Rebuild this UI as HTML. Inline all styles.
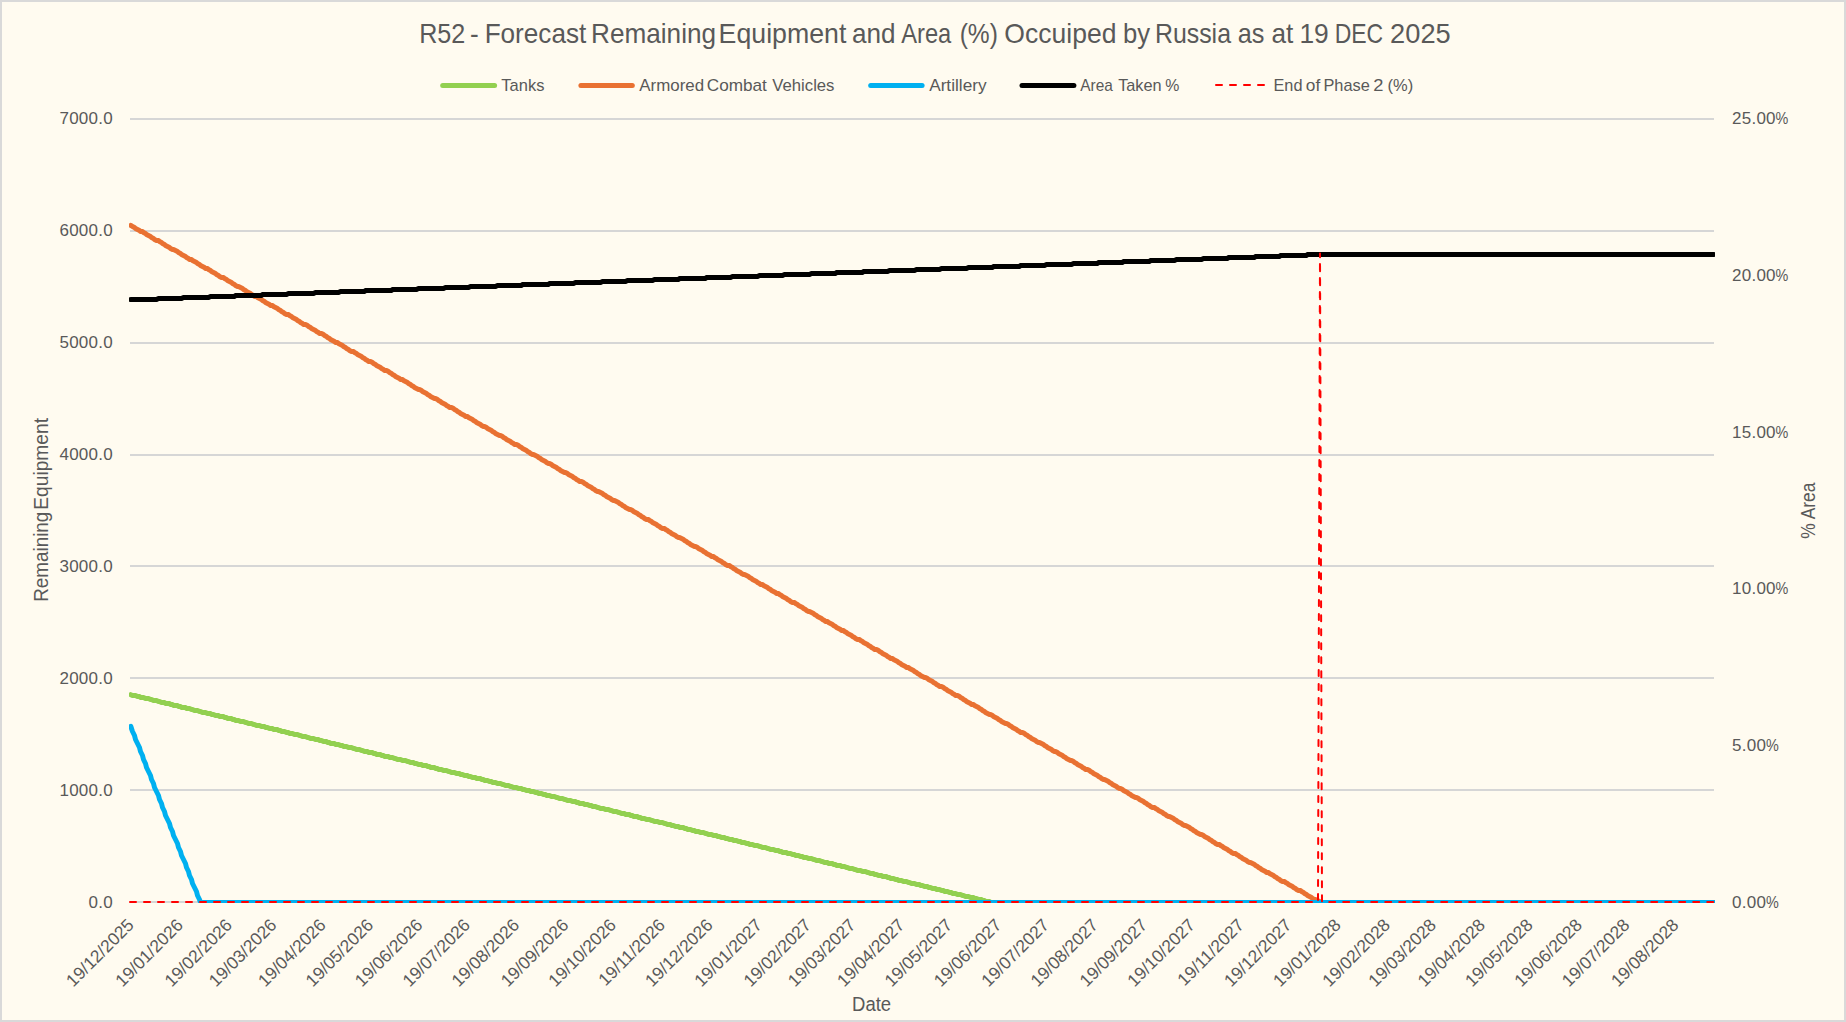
<!DOCTYPE html>
<html lang="en"><head><meta charset="utf-8"><title>R52 - Forecast Remaining Equipment and Area (%) Occuiped by Russia</title>
<style>html,body{margin:0;padding:0;background:#fffbf0;overflow:hidden}svg{display:block}</style></head>
<body>
<svg width="1846" height="1022" viewBox="0 0 1846 1022">
<rect x="0" y="0" width="1846" height="1022" fill="#d9d9d9"/>
<rect x="2" y="2" width="1842" height="1018" fill="#fffbf0"/>
<text y="42.9" font-family="'Liberation Sans', sans-serif" font-size="27.2" fill="#595959" ><tspan x="419.13" textLength="46.12" lengthAdjust="spacingAndGlyphs">R52</tspan> <tspan x="470.12" textLength="8.70" lengthAdjust="spacingAndGlyphs">-</tspan> <tspan x="484.64" textLength="101.66" lengthAdjust="spacingAndGlyphs">Forecast</tspan> <tspan x="591.04" textLength="125.00" lengthAdjust="spacingAndGlyphs">Remaining</tspan> <tspan x="718.60" textLength="127.73" lengthAdjust="spacingAndGlyphs">Equipment</tspan> <tspan x="852.09" textLength="43.57" lengthAdjust="spacingAndGlyphs">and</tspan> <tspan x="901.24" textLength="50.06" lengthAdjust="spacingAndGlyphs">Area</tspan> <tspan x="959.66" textLength="38.21" lengthAdjust="spacingAndGlyphs">(%)</tspan> <tspan x="1004.34" textLength="112.08" lengthAdjust="spacingAndGlyphs">Occuiped</tspan> <tspan x="1122.93" textLength="27.06" lengthAdjust="spacingAndGlyphs">by</tspan> <tspan x="1154.95" textLength="76.03" lengthAdjust="spacingAndGlyphs">Russia</tspan> <tspan x="1237.63" textLength="26.69" lengthAdjust="spacingAndGlyphs">as</tspan> <tspan x="1271.39" textLength="21.85" lengthAdjust="spacingAndGlyphs">at</tspan> <tspan x="1299.42" textLength="29.33" lengthAdjust="spacingAndGlyphs">19</tspan> <tspan x="1334.70" textLength="48.53" lengthAdjust="spacingAndGlyphs">DEC</tspan> <tspan x="1390.14" textLength="60.61" lengthAdjust="spacingAndGlyphs">2025</tspan></text>
<rect x="130" y="789" width="1584" height="2" fill="#d6d6d6"/>
<rect x="130" y="677" width="1584" height="2" fill="#d6d6d6"/>
<rect x="130" y="565" width="1584" height="2" fill="#d6d6d6"/>
<rect x="130" y="454" width="1584" height="2" fill="#d6d6d6"/>
<rect x="130" y="342" width="1584" height="2" fill="#d6d6d6"/>
<rect x="130" y="230" width="1584" height="2" fill="#d6d6d6"/>
<rect x="130" y="118" width="1584" height="2" fill="#d6d6d6"/>
<rect x="130" y="901" width="1584" height="2" fill="#d6d6d6"/>
<text x="112.9" y="908" font-family="'Liberation Sans', sans-serif" font-size="17" letter-spacing="0.24" fill="#595959" text-anchor="end">0.0</text>
<text x="112.9" y="796" font-family="'Liberation Sans', sans-serif" font-size="17" letter-spacing="0.24" fill="#595959" text-anchor="end">1000.0</text>
<text x="112.9" y="684" font-family="'Liberation Sans', sans-serif" font-size="17" letter-spacing="0.24" fill="#595959" text-anchor="end">2000.0</text>
<text x="112.9" y="572" font-family="'Liberation Sans', sans-serif" font-size="17" letter-spacing="0.24" fill="#595959" text-anchor="end">3000.0</text>
<text x="112.9" y="460" font-family="'Liberation Sans', sans-serif" font-size="17" letter-spacing="0.24" fill="#595959" text-anchor="end">4000.0</text>
<text x="112.9" y="348" font-family="'Liberation Sans', sans-serif" font-size="17" letter-spacing="0.24" fill="#595959" text-anchor="end">5000.0</text>
<text x="112.9" y="236" font-family="'Liberation Sans', sans-serif" font-size="17" letter-spacing="0.24" fill="#595959" text-anchor="end">6000.0</text>
<text x="112.9" y="124" font-family="'Liberation Sans', sans-serif" font-size="17" letter-spacing="0.24" fill="#595959" text-anchor="end">7000.0</text>
<text x="1732.0" y="908" font-family="'Liberation Sans', sans-serif" font-size="17" letter-spacing="0.25" fill="#595959">0.00<tspan x="1766.09" textLength="13.01" lengthAdjust="spacingAndGlyphs">%</tspan></text>
<text x="1732.0" y="751" font-family="'Liberation Sans', sans-serif" font-size="17" letter-spacing="0.25" fill="#595959">5.00<tspan x="1766.09" textLength="13.01" lengthAdjust="spacingAndGlyphs">%</tspan></text>
<text x="1732.0" y="594" font-family="'Liberation Sans', sans-serif" font-size="17" letter-spacing="0.25" fill="#595959">10.00<tspan x="1775.59" textLength="13.01" lengthAdjust="spacingAndGlyphs">%</tspan></text>
<text x="1732.0" y="438" font-family="'Liberation Sans', sans-serif" font-size="17" letter-spacing="0.25" fill="#595959">15.00<tspan x="1775.59" textLength="13.01" lengthAdjust="spacingAndGlyphs">%</tspan></text>
<text x="1732.0" y="281" font-family="'Liberation Sans', sans-serif" font-size="17" letter-spacing="0.25" fill="#595959">20.00<tspan x="1775.59" textLength="13.01" lengthAdjust="spacingAndGlyphs">%</tspan></text>
<text x="1732.0" y="124" font-family="'Liberation Sans', sans-serif" font-size="17" letter-spacing="0.25" fill="#595959">25.00<tspan x="1775.59" textLength="13.01" lengthAdjust="spacingAndGlyphs">%</tspan></text>
<text transform="translate(134.9,926.1) rotate(-45)" font-family="'Liberation Sans', sans-serif" font-size="17.4" fill="#595959" text-anchor="end">19/12/2025</text>
<text transform="translate(184.1,926.1) rotate(-45)" font-family="'Liberation Sans', sans-serif" font-size="17.4" fill="#595959" text-anchor="end">19/01/2026</text>
<text transform="translate(233.2,926.1) rotate(-45)" font-family="'Liberation Sans', sans-serif" font-size="17.4" fill="#595959" text-anchor="end">19/02/2026</text>
<text transform="translate(277.6,926.1) rotate(-45)" font-family="'Liberation Sans', sans-serif" font-size="17.4" fill="#595959" text-anchor="end">19/03/2026</text>
<text transform="translate(326.8,926.1) rotate(-45)" font-family="'Liberation Sans', sans-serif" font-size="17.4" fill="#595959" text-anchor="end">19/04/2026</text>
<text transform="translate(374.4,926.1) rotate(-45)" font-family="'Liberation Sans', sans-serif" font-size="17.4" fill="#595959" text-anchor="end">19/05/2026</text>
<text transform="translate(423.6,926.1) rotate(-45)" font-family="'Liberation Sans', sans-serif" font-size="17.4" fill="#595959" text-anchor="end">19/06/2026</text>
<text transform="translate(471.2,926.1) rotate(-45)" font-family="'Liberation Sans', sans-serif" font-size="17.4" fill="#595959" text-anchor="end">19/07/2026</text>
<text transform="translate(520.3,926.1) rotate(-45)" font-family="'Liberation Sans', sans-serif" font-size="17.4" fill="#595959" text-anchor="end">19/08/2026</text>
<text transform="translate(569.5,926.1) rotate(-45)" font-family="'Liberation Sans', sans-serif" font-size="17.4" fill="#595959" text-anchor="end">19/09/2026</text>
<text transform="translate(617.1,926.1) rotate(-45)" font-family="'Liberation Sans', sans-serif" font-size="17.4" fill="#595959" text-anchor="end">19/10/2026</text>
<text transform="translate(666.2,926.1) rotate(-45)" font-family="'Liberation Sans', sans-serif" font-size="17.4" fill="#595959" text-anchor="end">19/11/2026</text>
<text transform="translate(713.8,926.1) rotate(-45)" font-family="'Liberation Sans', sans-serif" font-size="17.4" fill="#595959" text-anchor="end">19/12/2026</text>
<text transform="translate(763.0,926.1) rotate(-45)" font-family="'Liberation Sans', sans-serif" font-size="17.4" fill="#595959" text-anchor="end">19/01/2027</text>
<text transform="translate(812.2,926.1) rotate(-45)" font-family="'Liberation Sans', sans-serif" font-size="17.4" fill="#595959" text-anchor="end">19/02/2027</text>
<text transform="translate(856.6,926.1) rotate(-45)" font-family="'Liberation Sans', sans-serif" font-size="17.4" fill="#595959" text-anchor="end">19/03/2027</text>
<text transform="translate(905.7,926.1) rotate(-45)" font-family="'Liberation Sans', sans-serif" font-size="17.4" fill="#595959" text-anchor="end">19/04/2027</text>
<text transform="translate(953.3,926.1) rotate(-45)" font-family="'Liberation Sans', sans-serif" font-size="17.4" fill="#595959" text-anchor="end">19/05/2027</text>
<text transform="translate(1002.5,926.1) rotate(-45)" font-family="'Liberation Sans', sans-serif" font-size="17.4" fill="#595959" text-anchor="end">19/06/2027</text>
<text transform="translate(1050.1,926.1) rotate(-45)" font-family="'Liberation Sans', sans-serif" font-size="17.4" fill="#595959" text-anchor="end">19/07/2027</text>
<text transform="translate(1099.2,926.1) rotate(-45)" font-family="'Liberation Sans', sans-serif" font-size="17.4" fill="#595959" text-anchor="end">19/08/2027</text>
<text transform="translate(1148.4,926.1) rotate(-45)" font-family="'Liberation Sans', sans-serif" font-size="17.4" fill="#595959" text-anchor="end">19/09/2027</text>
<text transform="translate(1196.0,926.1) rotate(-45)" font-family="'Liberation Sans', sans-serif" font-size="17.4" fill="#595959" text-anchor="end">19/10/2027</text>
<text transform="translate(1245.2,926.1) rotate(-45)" font-family="'Liberation Sans', sans-serif" font-size="17.4" fill="#595959" text-anchor="end">19/11/2027</text>
<text transform="translate(1292.7,926.1) rotate(-45)" font-family="'Liberation Sans', sans-serif" font-size="17.4" fill="#595959" text-anchor="end">19/12/2027</text>
<text transform="translate(1341.9,926.1) rotate(-45)" font-family="'Liberation Sans', sans-serif" font-size="17.4" fill="#595959" text-anchor="end">19/01/2028</text>
<text transform="translate(1391.1,926.1) rotate(-45)" font-family="'Liberation Sans', sans-serif" font-size="17.4" fill="#595959" text-anchor="end">19/02/2028</text>
<text transform="translate(1437.1,926.1) rotate(-45)" font-family="'Liberation Sans', sans-serif" font-size="17.4" fill="#595959" text-anchor="end">19/03/2028</text>
<text transform="translate(1486.2,926.1) rotate(-45)" font-family="'Liberation Sans', sans-serif" font-size="17.4" fill="#595959" text-anchor="end">19/04/2028</text>
<text transform="translate(1533.8,926.1) rotate(-45)" font-family="'Liberation Sans', sans-serif" font-size="17.4" fill="#595959" text-anchor="end">19/05/2028</text>
<text transform="translate(1583.0,926.1) rotate(-45)" font-family="'Liberation Sans', sans-serif" font-size="17.4" fill="#595959" text-anchor="end">19/06/2028</text>
<text transform="translate(1630.6,926.1) rotate(-45)" font-family="'Liberation Sans', sans-serif" font-size="17.4" fill="#595959" text-anchor="end">19/07/2028</text>
<text transform="translate(1679.7,926.1) rotate(-45)" font-family="'Liberation Sans', sans-serif" font-size="17.4" fill="#595959" text-anchor="end">19/08/2028</text>
<g transform="translate(48.1,600.2) rotate(-90)"><text y="0" font-family="'Liberation Sans', sans-serif" font-size="19.7" fill="#595959" ><tspan x="-1.55" textLength="90.04" lengthAdjust="spacingAndGlyphs">Remaining</tspan> <tspan x="90.52" textLength="91.64" lengthAdjust="spacingAndGlyphs">Equipment</tspan></text></g>
<g transform="translate(1815.2,538.1) rotate(-90)"><text y="0" font-family="'Liberation Sans', sans-serif" font-size="19.3" fill="#595959" ><tspan x="-0.61" textLength="56.20" lengthAdjust="spacingAndGlyphs">% Area</tspan></text></g>
<text y="1010.9" font-family="'Liberation Sans', sans-serif" font-size="19.9" fill="#595959" ><tspan x="852.07" textLength="39.06" lengthAdjust="spacingAndGlyphs">Date</tspan></text>
<line x1="442.7" y1="85.5" x2="494.6" y2="85.5" stroke="#92d050" stroke-width="5" stroke-linecap="round"/>
<text y="90.7" font-family="'Liberation Sans', sans-serif" font-size="17" fill="#595959" ><tspan x="501.33" textLength="43.05" lengthAdjust="spacingAndGlyphs">Tanks</tspan></text>
<line x1="580.9" y1="85.5" x2="632.3" y2="85.5" stroke="#e97132" stroke-width="5" stroke-linecap="round"/>
<text y="90.7" font-family="'Liberation Sans', sans-serif" font-size="17" fill="#595959" ><tspan x="639.26" textLength="64.83" lengthAdjust="spacingAndGlyphs">Armored</tspan> <tspan x="706.74" textLength="60.11" lengthAdjust="spacingAndGlyphs">Combat</tspan> <tspan x="772.32" textLength="62.16" lengthAdjust="spacingAndGlyphs">Vehicles</tspan></text>
<line x1="870.7" y1="85.5" x2="922.1" y2="85.5" stroke="#00b0f0" stroke-width="5" stroke-linecap="round"/>
<text y="90.7" font-family="'Liberation Sans', sans-serif" font-size="17" fill="#595959" ><tspan x="929.16" textLength="57.40" lengthAdjust="spacingAndGlyphs">Artillery</tspan></text>
<line x1="1022.0" y1="85.5" x2="1073.9" y2="85.5" stroke="#000000" stroke-width="5" stroke-linecap="round"/>
<text y="90.7" font-family="'Liberation Sans', sans-serif" font-size="17" fill="#595959" ><tspan x="1080.26" textLength="32.54" lengthAdjust="spacingAndGlyphs">Area</tspan> <tspan x="1118.13" textLength="43.50" lengthAdjust="spacingAndGlyphs">Taken</tspan> <tspan x="1165.25" textLength="14.10" lengthAdjust="spacingAndGlyphs">%</tspan></text>
<line x1="1215" y1="85.1" x2="1266" y2="85.1" stroke="#ff0000" stroke-width="2" stroke-dasharray="6 8" stroke-dashoffset="-1" stroke-linecap="round"/>
<text y="90.7" font-family="'Liberation Sans', sans-serif" font-size="17" fill="#595959" ><tspan x="1273.46" textLength="28.99" lengthAdjust="spacingAndGlyphs">End</tspan> <tspan x="1305.87" textLength="14.42" lengthAdjust="spacingAndGlyphs">of</tspan> <tspan x="1323.45" textLength="46.35" lengthAdjust="spacingAndGlyphs">Phase</tspan> <tspan x="1373.38" textLength="10.21" lengthAdjust="spacingAndGlyphs">2</tspan> <tspan x="1387.57" textLength="25.62" lengthAdjust="spacingAndGlyphs">(%)</tspan></text>
<clipPath id="plot"><rect x="128.9" y="100" width="1586.1" height="803.0"/></clipPath>
<g clip-path="url(#plot)" fill="none" stroke-linejoin="round" stroke-linecap="round">
<polyline points="130.8,694.7 132.5,695.5 135.5,695.5 137.5,696.5 139.5,696.5 140.5,697.5 143.5,697.5 145.5,698.5 148.5,698.5 150.5,699.5 151.5,699.5 153.5,700.5 156.5,700.5 158.5,701.5 159.5,701.5 161.5,702.5 164.5,702.5 165.5,703.5 169.5,703.5 170.5,704.5 172.5,704.5 173.5,705.5 177.5,705.5 178.5,706.5 180.5,706.5 181.5,707.5 185.5,707.5 186.5,708.5 189.5,708.5 191.5,709.5 192.5,709.5 194.5,710.5 197.5,710.5 199.5,711.5 200.5,711.5 202.5,712.5 205.5,712.5 207.5,713.5 210.5,713.5 211.5,714.5 213.5,714.5 215.5,715.5 218.5,715.5 219.5,716.5 223.5,716.5 224.5,717.5 226.5,717.5 227.5,718.5 231.5,718.5 232.5,719.5 234.5,719.5 235.5,720.5 238.5,720.5 240.5,721.5 243.5,721.5 245.5,722.5 246.5,722.5 248.5,723.5 251.5,723.5 253.5,724.5 254.5,724.5 256.5,725.5 259.5,725.5 261.5,726.5 264.5,726.5 265.5,727.5 267.5,727.5 269.5,728.5 272.5,728.5 273.5,729.5 277.5,729.5 278.5,730.5 280.5,730.5 281.5,731.5 284.5,731.5 286.5,732.5 288.5,732.5 289.5,733.5 292.5,733.5 294.5,734.5 297.5,734.5 299.5,735.5 300.5,735.5 302.5,736.5 305.5,736.5 307.5,737.5 308.5,737.5 310.5,738.5 313.5,738.5 315.5,739.5 318.5,739.5 319.5,740.5 321.5,740.5 323.5,741.5 326.5,741.5 327.5,742.5 329.5,742.5 330.5,743.5 334.5,743.5 335.5,744.5 338.5,744.5 340.5,745.5 342.5,745.5 343.5,746.5 346.5,746.5 348.5,747.5 351.5,747.5 353.5,748.5 354.5,748.5 356.5,749.5 359.5,749.5 361.5,750.5 362.5,750.5 364.5,751.5 367.5,751.5 368.5,752.5 372.5,752.5 373.5,753.5 375.5,753.5 376.5,754.5 380.5,754.5 381.5,755.5 383.5,755.5 384.5,756.5 388.5,756.5 389.5,757.5 392.5,757.5 394.5,758.5 395.5,758.5 397.5,759.5 400.5,759.5 402.5,760.5 405.5,760.5 407.5,761.5 408.5,761.5 410.5,762.5 413.5,762.5 414.5,763.5 416.5,763.5 418.5,764.5 421.5,764.5 422.5,765.5 426.5,765.5 427.5,766.5 429.5,766.5 430.5,767.5 434.5,767.5 435.5,768.5 437.5,768.5 438.5,769.5 441.5,769.5 443.5,770.5 446.5,770.5 448.5,771.5 449.5,771.5 451.5,772.5 454.5,772.5 456.5,773.5 459.5,773.5 460.5,774.5 462.5,774.5 464.5,775.5 467.5,775.5 468.5,776.5 470.5,776.5 472.5,777.5 475.5,777.5 476.5,778.5 480.5,778.5 481.5,779.5 483.5,779.5 484.5,780.5 487.5,780.5 489.5,781.5 491.5,781.5 492.5,782.5 495.5,782.5 497.5,783.5 500.5,783.5 502.5,784.5 503.5,784.5 505.5,785.5 508.5,785.5 510.5,786.5 511.5,786.5 513.5,787.5 516.5,787.5 518.5,788.5 521.5,788.5 522.5,789.5 524.5,789.5 526.5,790.5 529.5,790.5 530.5,791.5 533.5,791.5 535.5,792.5 537.5,792.5 538.5,793.5 541.5,793.5 543.5,794.5 545.5,794.5 546.5,795.5 549.5,795.5 551.5,796.5 554.5,796.5 556.5,797.5 557.5,797.5 559.5,798.5 562.5,798.5 564.5,799.5 565.5,799.5 567.5,800.5 570.5,800.5 572.5,801.5 575.5,801.5 576.5,802.5 578.5,802.5 579.5,803.5 583.5,803.5 584.5,804.5 587.5,804.5 589.5,805.5 591.5,805.5 592.5,806.5 595.5,806.5 597.5,807.5 598.5,807.5 600.5,808.5 603.5,808.5 605.5,809.5 608.5,809.5 610.5,810.5 611.5,810.5 613.5,811.5 616.5,811.5 618.5,812.5 619.5,812.5 621.5,813.5 624.5,813.5 625.5,814.5 629.5,814.5 630.5,815.5 632.5,815.5 633.5,816.5 637.5,816.5 638.5,817.5 640.5,817.5 641.5,818.5 644.5,818.5 646.5,819.5 649.5,819.5 651.5,820.5 652.5,820.5 654.5,821.5 657.5,821.5 659.5,822.5 662.5,822.5 664.5,823.5 665.5,823.5 667.5,824.5 670.5,824.5 671.5,825.5 673.5,825.5 675.5,826.5 678.5,826.5 679.5,827.5 683.5,827.5 684.5,828.5 686.5,828.5 687.5,829.5 690.5,829.5 692.5,830.5 694.5,830.5 695.5,831.5 698.5,831.5 700.5,832.5 703.5,832.5 705.5,833.5 706.5,833.5 708.5,834.5 711.5,834.5 713.5,835.5 716.5,835.5 717.5,836.5 719.5,836.5 721.5,837.5 724.5,837.5 725.5,838.5 727.5,838.5 729.5,839.5 732.5,839.5 733.5,840.5 736.5,840.5 738.5,841.5 740.5,841.5 741.5,842.5 744.5,842.5 746.5,843.5 748.5,843.5 749.5,844.5 752.5,844.5 754.5,845.5 757.5,845.5 759.5,846.5 760.5,846.5 762.5,847.5 765.5,847.5 767.5,848.5 768.5,848.5 770.5,849.5 773.5,849.5 775.5,850.5 778.5,850.5 779.5,851.5 781.5,851.5 782.5,852.5 786.5,852.5 787.5,853.5 790.5,853.5 792.5,854.5 794.5,854.5 795.5,855.5 798.5,855.5 800.5,856.5 802.5,856.5 803.5,857.5 806.5,857.5 808.5,858.5 811.5,858.5 813.5,859.5 814.5,859.5 816.5,860.5 819.5,860.5 821.5,861.5 822.5,861.5 824.5,862.5 827.5,862.5 828.5,863.5 832.5,863.5 833.5,864.5 835.5,864.5 836.5,865.5 840.5,865.5 841.5,866.5 844.5,866.5 846.5,867.5 847.5,867.5 849.5,868.5 852.5,868.5 854.5,869.5 855.5,869.5 857.5,870.5 860.5,870.5 862.5,871.5 865.5,871.5 867.5,872.5 868.5,872.5 870.5,873.5 873.5,873.5 874.5,874.5 876.5,874.5 878.5,875.5 881.5,875.5 882.5,876.5 886.5,876.5 887.5,877.5 889.5,877.5 890.5,878.5 893.5,878.5 895.5,879.5 897.5,879.5 898.5,880.5 901.5,880.5 903.5,881.5 906.5,881.5 908.5,882.5 909.5,882.5 911.5,883.5 914.5,883.5 916.5,884.5 919.5,884.5 920.5,885.5 922.5,885.5 924.5,886.5 927.5,886.5 928.5,887.5 930.5,887.5 932.5,888.5 935.5,888.5 936.5,889.5 939.5,889.5 941.5,890.5 943.5,890.5 944.5,891.5 947.5,891.5 949.5,892.5 951.5,892.5 952.5,893.5 955.5,893.5 957.5,894.5 960.5,894.5 962.5,895.5 963.5,895.5 965.5,896.5 968.5,896.5 970.5,897.5 973.5,897.5 974.5,898.5 976.5,898.5 978.5,899.5 981.5,899.5 982.5,900.5 984.5,900.5 985.5,901.5 989.5,901.5 990.5,902.5 1712.5,902.5 1714.0,902.5" stroke="#92d050" stroke-width="5" />
<polyline points="130.8,225.4 132.5,226.5 134.5,227.5 135.5,228.5 137.5,229.5 139.5,230.5 140.5,231.5 142.5,231.5 143.5,232.5 145.5,233.5 146.5,234.5 148.5,235.5 150.5,236.5 151.5,237.5 153.5,238.5 154.5,239.5 156.5,240.5 158.5,240.5 159.5,241.5 161.5,242.5 162.5,243.5 164.5,244.5 165.5,245.5 167.5,246.5 169.5,247.5 170.5,248.5 172.5,249.5 173.5,249.5 175.5,250.5 177.5,251.5 178.5,252.5 180.5,253.5 181.5,254.5 183.5,255.5 185.5,256.5 186.5,257.5 188.5,258.5 189.5,259.5 191.5,259.5 192.5,260.5 194.5,261.5 196.5,262.5 197.5,263.5 199.5,264.5 200.5,265.5 202.5,266.5 204.5,267.5 205.5,268.5 207.5,268.5 208.5,269.5 210.5,270.5 211.5,271.5 213.5,272.5 215.5,273.5 216.5,274.5 218.5,275.5 219.5,276.5 221.5,277.5 223.5,277.5 224.5,278.5 226.5,279.5 227.5,280.5 229.5,281.5 231.5,282.5 232.5,283.5 234.5,284.5 235.5,285.5 237.5,286.5 238.5,286.5 240.5,287.5 242.5,288.5 243.5,289.5 245.5,290.5 246.5,291.5 248.5,292.5 250.5,293.5 251.5,294.5 253.5,295.5 254.5,296.5 256.5,296.5 257.5,297.5 259.5,298.5 261.5,299.5 262.5,300.5 264.5,301.5 265.5,302.5 267.5,303.5 269.5,304.5 270.5,305.5 272.5,305.5 273.5,306.5 275.5,307.5 277.5,308.5 278.5,309.5 280.5,310.5 281.5,311.5 283.5,312.5 284.5,313.5 286.5,314.5 288.5,314.5 289.5,315.5 291.5,316.5 292.5,317.5 294.5,318.5 296.5,319.5 297.5,320.5 299.5,321.5 300.5,322.5 302.5,323.5 303.5,324.5 305.5,324.5 307.5,325.5 308.5,326.5 310.5,327.5 311.5,328.5 313.5,329.5 315.5,330.5 316.5,331.5 318.5,332.5 319.5,333.5 321.5,333.5 323.5,334.5 324.5,335.5 326.5,336.5 327.5,337.5 329.5,338.5 330.5,339.5 332.5,340.5 334.5,341.5 335.5,342.5 337.5,342.5 338.5,343.5 340.5,344.5 342.5,345.5 343.5,346.5 345.5,347.5 346.5,348.5 348.5,349.5 349.5,350.5 351.5,351.5 353.5,351.5 354.5,352.5 356.5,353.5 357.5,354.5 359.5,355.5 361.5,356.5 362.5,357.5 364.5,358.5 365.5,359.5 367.5,360.5 368.5,361.5 370.5,361.5 372.5,362.5 373.5,363.5 375.5,364.5 376.5,365.5 378.5,366.5 380.5,367.5 381.5,368.5 383.5,369.5 384.5,370.5 386.5,370.5 388.5,371.5 389.5,372.5 391.5,373.5 392.5,374.5 394.5,375.5 395.5,376.5 397.5,377.5 399.5,378.5 400.5,379.5 402.5,379.5 403.5,380.5 405.5,381.5 407.5,382.5 408.5,383.5 410.5,384.5 411.5,385.5 413.5,386.5 414.5,387.5 416.5,388.5 418.5,389.5 419.5,389.5 421.5,390.5 422.5,391.5 424.5,392.5 426.5,393.5 427.5,394.5 429.5,395.5 430.5,396.5 432.5,397.5 434.5,398.5 435.5,398.5 437.5,399.5 438.5,400.5 440.5,401.5 441.5,402.5 443.5,403.5 445.5,404.5 446.5,405.5 448.5,406.5 449.5,407.5 451.5,407.5 453.5,408.5 454.5,409.5 456.5,410.5 457.5,411.5 459.5,412.5 460.5,413.5 462.5,414.5 464.5,415.5 465.5,416.5 467.5,416.5 468.5,417.5 470.5,418.5 472.5,419.5 473.5,420.5 475.5,421.5 476.5,422.5 478.5,423.5 480.5,424.5 481.5,425.5 483.5,426.5 484.5,426.5 486.5,427.5 487.5,428.5 489.5,429.5 491.5,430.5 492.5,431.5 494.5,432.5 495.5,433.5 497.5,434.5 499.5,435.5 500.5,435.5 502.5,436.5 503.5,437.5 505.5,438.5 506.5,439.5 508.5,440.5 510.5,441.5 511.5,442.5 513.5,443.5 514.5,444.5 516.5,444.5 518.5,445.5 519.5,446.5 521.5,447.5 522.5,448.5 524.5,449.5 526.5,450.5 527.5,451.5 529.5,452.5 530.5,453.5 532.5,454.5 533.5,454.5 535.5,455.5 537.5,456.5 538.5,457.5 540.5,458.5 541.5,459.5 543.5,460.5 545.5,461.5 546.5,462.5 548.5,463.5 549.5,463.5 551.5,464.5 552.5,465.5 554.5,466.5 556.5,467.5 557.5,468.5 559.5,469.5 560.5,470.5 562.5,471.5 564.5,472.5 565.5,472.5 567.5,473.5 568.5,474.5 570.5,475.5 572.5,476.5 573.5,477.5 575.5,478.5 576.5,479.5 578.5,480.5 579.5,481.5 581.5,481.5 583.5,482.5 584.5,483.5 586.5,484.5 587.5,485.5 589.5,486.5 591.5,487.5 592.5,488.5 594.5,489.5 595.5,490.5 597.5,491.5 598.5,491.5 600.5,492.5 602.5,493.5 603.5,494.5 605.5,495.5 606.5,496.5 608.5,497.5 610.5,498.5 611.5,499.5 613.5,500.5 614.5,500.5 616.5,501.5 618.5,502.5 619.5,503.5 621.5,504.5 622.5,505.5 624.5,506.5 625.5,507.5 627.5,508.5 629.5,509.5 630.5,509.5 632.5,510.5 633.5,511.5 635.5,512.5 637.5,513.5 638.5,514.5 640.5,515.5 641.5,516.5 643.5,517.5 644.5,518.5 646.5,519.5 648.5,519.5 649.5,520.5 651.5,521.5 652.5,522.5 654.5,523.5 656.5,524.5 657.5,525.5 659.5,526.5 660.5,527.5 662.5,528.5 664.5,528.5 665.5,529.5 667.5,530.5 668.5,531.5 670.5,532.5 671.5,533.5 673.5,534.5 675.5,535.5 676.5,536.5 678.5,537.5 679.5,537.5 681.5,538.5 683.5,539.5 684.5,540.5 686.5,541.5 687.5,542.5 689.5,543.5 690.5,544.5 692.5,545.5 694.5,546.5 695.5,546.5 697.5,547.5 698.5,548.5 700.5,549.5 702.5,550.5 703.5,551.5 705.5,552.5 706.5,553.5 708.5,554.5 710.5,555.5 711.5,556.5 713.5,556.5 714.5,557.5 716.5,558.5 717.5,559.5 719.5,560.5 721.5,561.5 722.5,562.5 724.5,563.5 725.5,564.5 727.5,565.5 729.5,565.5 730.5,566.5 732.5,567.5 733.5,568.5 735.5,569.5 736.5,570.5 738.5,571.5 740.5,572.5 741.5,573.5 743.5,574.5 744.5,574.5 746.5,575.5 748.5,576.5 749.5,577.5 751.5,578.5 752.5,579.5 754.5,580.5 756.5,581.5 757.5,582.5 759.5,583.5 760.5,584.5 762.5,584.5 763.5,585.5 765.5,586.5 767.5,587.5 768.5,588.5 770.5,589.5 771.5,590.5 773.5,591.5 775.5,592.5 776.5,593.5 778.5,593.5 779.5,594.5 781.5,595.5 782.5,596.5 784.5,597.5 786.5,598.5 787.5,599.5 789.5,600.5 790.5,601.5 792.5,602.5 794.5,602.5 795.5,603.5 797.5,604.5 798.5,605.5 800.5,606.5 802.5,607.5 803.5,608.5 805.5,609.5 806.5,610.5 808.5,611.5 809.5,611.5 811.5,612.5 813.5,613.5 814.5,614.5 816.5,615.5 817.5,616.5 819.5,617.5 821.5,618.5 822.5,619.5 824.5,620.5 825.5,621.5 827.5,621.5 828.5,622.5 830.5,623.5 832.5,624.5 833.5,625.5 835.5,626.5 836.5,627.5 838.5,628.5 840.5,629.5 841.5,630.5 843.5,630.5 844.5,631.5 846.5,632.5 847.5,633.5 849.5,634.5 851.5,635.5 852.5,636.5 854.5,637.5 855.5,638.5 857.5,639.5 859.5,639.5 860.5,640.5 862.5,641.5 863.5,642.5 865.5,643.5 867.5,644.5 868.5,645.5 870.5,646.5 871.5,647.5 873.5,648.5 874.5,649.5 876.5,649.5 878.5,650.5 879.5,651.5 881.5,652.5 882.5,653.5 884.5,654.5 886.5,655.5 887.5,656.5 889.5,657.5 890.5,658.5 892.5,658.5 893.5,659.5 895.5,660.5 897.5,661.5 898.5,662.5 900.5,663.5 901.5,664.5 903.5,665.5 905.5,666.5 906.5,667.5 908.5,667.5 909.5,668.5 911.5,669.5 913.5,670.5 914.5,671.5 916.5,672.5 917.5,673.5 919.5,674.5 920.5,675.5 922.5,676.5 924.5,677.5 925.5,677.5 927.5,678.5 928.5,679.5 930.5,680.5 932.5,681.5 933.5,682.5 935.5,683.5 936.5,684.5 938.5,685.5 939.5,686.5 941.5,686.5 943.5,687.5 944.5,688.5 946.5,689.5 947.5,690.5 949.5,691.5 951.5,692.5 952.5,693.5 954.5,694.5 955.5,695.5 957.5,695.5 959.5,696.5 960.5,697.5 962.5,698.5 963.5,699.5 965.5,700.5 966.5,701.5 968.5,702.5 970.5,703.5 971.5,704.5 973.5,704.5 974.5,705.5 976.5,706.5 978.5,707.5 979.5,708.5 981.5,709.5 982.5,710.5 984.5,711.5 985.5,712.5 987.5,713.5 989.5,714.5 990.5,714.5 992.5,715.5 993.5,716.5 995.5,717.5 997.5,718.5 998.5,719.5 1000.5,720.5 1001.5,721.5 1003.5,722.5 1005.5,723.5 1006.5,723.5 1008.5,724.5 1009.5,725.5 1011.5,726.5 1012.5,727.5 1014.5,728.5 1016.5,729.5 1017.5,730.5 1019.5,731.5 1020.5,732.5 1022.5,732.5 1024.5,733.5 1025.5,734.5 1027.5,735.5 1028.5,736.5 1030.5,737.5 1031.5,738.5 1033.5,739.5 1035.5,740.5 1036.5,741.5 1038.5,742.5 1039.5,742.5 1041.5,743.5 1043.5,744.5 1044.5,745.5 1046.5,746.5 1047.5,747.5 1049.5,748.5 1051.5,749.5 1052.5,750.5 1054.5,751.5 1055.5,751.5 1057.5,752.5 1058.5,753.5 1060.5,754.5 1062.5,755.5 1063.5,756.5 1065.5,757.5 1066.5,758.5 1068.5,759.5 1070.5,760.5 1071.5,760.5 1073.5,761.5 1074.5,762.5 1076.5,763.5 1077.5,764.5 1079.5,765.5 1081.5,766.5 1082.5,767.5 1084.5,768.5 1085.5,769.5 1087.5,769.5 1089.5,770.5 1090.5,771.5 1092.5,772.5 1093.5,773.5 1095.5,774.5 1097.5,775.5 1098.5,776.5 1100.5,777.5 1101.5,778.5 1103.5,779.5 1104.5,779.5 1106.5,780.5 1108.5,781.5 1109.5,782.5 1111.5,783.5 1112.5,784.5 1114.5,785.5 1116.5,786.5 1117.5,787.5 1119.5,788.5 1120.5,788.5 1122.5,789.5 1123.5,790.5 1125.5,791.5 1127.5,792.5 1128.5,793.5 1130.5,794.5 1131.5,795.5 1133.5,796.5 1135.5,797.5 1136.5,797.5 1138.5,798.5 1139.5,799.5 1141.5,800.5 1143.5,801.5 1144.5,802.5 1146.5,803.5 1147.5,804.5 1149.5,805.5 1150.5,806.5 1152.5,807.5 1154.5,807.5 1155.5,808.5 1157.5,809.5 1158.5,810.5 1160.5,811.5 1162.5,812.5 1163.5,813.5 1165.5,814.5 1166.5,815.5 1168.5,816.5 1169.5,816.5 1171.5,817.5 1173.5,818.5 1174.5,819.5 1176.5,820.5 1177.5,821.5 1179.5,822.5 1181.5,823.5 1182.5,824.5 1184.5,825.5 1185.5,825.5 1187.5,826.5 1189.5,827.5 1190.5,828.5 1192.5,829.5 1193.5,830.5 1195.5,831.5 1196.5,832.5 1198.5,833.5 1200.5,834.5 1201.5,834.5 1203.5,835.5 1204.5,836.5 1206.5,837.5 1208.5,838.5 1209.5,839.5 1211.5,840.5 1212.5,841.5 1214.5,842.5 1215.5,843.5 1217.5,844.5 1219.5,844.5 1220.5,845.5 1222.5,846.5 1223.5,847.5 1225.5,848.5 1227.5,849.5 1228.5,850.5 1230.5,851.5 1231.5,852.5 1233.5,853.5 1235.5,853.5 1236.5,854.5 1238.5,855.5 1239.5,856.5 1241.5,857.5 1242.5,858.5 1244.5,859.5 1246.5,860.5 1247.5,861.5 1249.5,862.5 1250.5,862.5 1252.5,863.5 1254.5,864.5 1255.5,865.5 1257.5,866.5 1258.5,867.5 1260.5,868.5 1261.5,869.5 1263.5,870.5 1265.5,871.5 1266.5,872.5 1268.5,872.5 1269.5,873.5 1271.5,874.5 1273.5,875.5 1274.5,876.5 1276.5,877.5 1277.5,878.5 1279.5,879.5 1280.5,880.5 1282.5,881.5 1284.5,881.5 1285.5,882.5 1287.5,883.5 1288.5,884.5 1290.5,885.5 1292.5,886.5 1293.5,887.5 1295.5,888.5 1296.5,889.5 1298.5,890.5 1300.5,890.5 1301.5,891.5 1303.5,892.5 1304.5,893.5 1306.5,894.5 1307.5,895.5 1309.5,896.5 1311.5,897.5 1312.5,898.5 1314.5,899.5 1315.5,899.5 1317.5,900.5 1319.5,901.5 1320.5,902.5 1712.5,902.5 1714.0,902.5" stroke="#e97132" stroke-width="5" />
<polyline points="130.8,726.4 132.5,731.5 134.5,735.5 135.5,739.5 137.5,743.5 139.5,747.5 140.5,751.5 142.5,755.5 143.5,759.5 145.5,763.5 146.5,767.5 148.5,771.5 150.5,775.5 151.5,779.5 153.5,783.5 154.5,787.5 156.5,791.5 158.5,795.5 159.5,799.5 161.5,803.5 162.5,807.5 164.5,811.5 165.5,815.5 167.5,819.5 169.5,823.5 170.5,827.5 172.5,831.5 173.5,835.5 175.5,839.5 177.5,843.5 178.5,847.5 180.5,851.5 181.5,855.5 183.5,859.5 185.5,863.5 186.5,867.5 188.5,871.5 189.5,875.5 191.5,879.5 192.5,883.5 194.5,887.5 196.5,891.5 197.5,895.5 199.5,899.5 200.5,902.5 1712.5,902.5 1714.0,902.5" stroke="#00b0f0" stroke-width="5" />
<polyline points="130.8,299.5 156.5,299.5 158.5,298.5 181.5,298.5 183.5,297.5 208.5,297.5 210.5,296.5 234.5,296.5 235.5,295.5 261.5,295.5 262.5,294.5 286.5,294.5 288.5,293.5 313.5,293.5 315.5,292.5 338.5,292.5 340.5,291.5 364.5,291.5 365.5,290.5 391.5,290.5 392.5,289.5 416.5,289.5 418.5,288.5 443.5,288.5 445.5,287.5 468.5,287.5 470.5,286.5 495.5,286.5 497.5,285.5 521.5,285.5 522.5,284.5 548.5,284.5 549.5,283.5 573.5,283.5 575.5,282.5 600.5,282.5 602.5,281.5 625.5,281.5 627.5,280.5 652.5,280.5 654.5,279.5 678.5,279.5 679.5,278.5 705.5,278.5 706.5,277.5 730.5,277.5 732.5,276.5 757.5,276.5 759.5,275.5 782.5,275.5 784.5,274.5 809.5,274.5 811.5,273.5 835.5,273.5 836.5,272.5 862.5,272.5 863.5,271.5 887.5,271.5 889.5,270.5 914.5,270.5 916.5,269.5 939.5,269.5 941.5,268.5 966.5,268.5 968.5,267.5 992.5,267.5 993.5,266.5 1019.5,266.5 1020.5,265.5 1044.5,265.5 1046.5,264.5 1071.5,264.5 1073.5,263.5 1097.5,263.5 1098.5,262.5 1122.5,262.5 1123.5,261.5 1149.5,261.5 1150.5,260.5 1174.5,260.5 1176.5,259.5 1201.5,259.5 1203.5,258.5 1227.5,258.5 1228.5,257.5 1254.5,257.5 1255.5,256.5 1279.5,256.5 1280.5,255.5 1306.5,255.5 1307.5,254.5 1712.5,254.5 1714.0,254.5" stroke="#000000" stroke-width="5" />
</g>
<g clip-path="url(#plot)" fill="none">
<polyline points="129.0,902.0 1318.0,902.0 1320.0,253.6 1322.0,902.0 1714.0,902.0" stroke="#ff0000" stroke-width="2" stroke-dasharray="6 8" stroke-dashoffset="-1" stroke-linecap="round" stroke-linejoin="round"/>
</g>
</svg>
</body></html>
